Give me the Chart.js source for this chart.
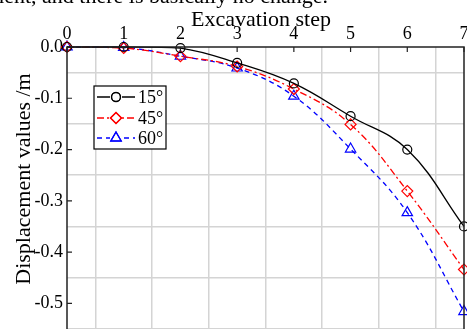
<!DOCTYPE html>
<html>
<head>
<meta charset="utf-8">
<script src="https://cdn.jsdelivr.net/npm/chart.js@4/dist/chart.umd.min.js"></script>
<style>
  html, body { margin: 0; padding: 0; background: #fff; overflow: hidden; }
  #wrap { width: 467px; height: 329px; position: relative; }
</style>
</head>
<body>
<div id="wrap"><canvas id="disp"></canvas></div>
<script>
// excavation steps and displacement (m)
const steps = [0, 1, 2, 3, 4, 5, 6, 7];
const disp15 = [0, 0, -0.002, -0.031, -0.071, -0.135, -0.200, -0.350];
const disp45 = [0, -0.002, -0.018, -0.038, -0.082, -0.151, -0.281, -0.434];
const disp60 = [0, -0.001, -0.018, -0.041, -0.096, -0.199, -0.323, -0.516];
const seriesNames = ['15°', '45°', '60°'];
const xTicks = [0, 1, 2, 3, 4, 5, 6, 7];
const yTicks = [0, -0.1, -0.2, -0.3, -0.4, -0.5];

const serif = "'Liberation Serif', 'Times New Roman', serif";

function pts(ys) {
    return steps.map((s, i) => ({x: s, y: ys[i]}));
}

function isHalf(v, step) {
    let k = Math.round(v / step * 2);
    return Math.abs(k) % 2 === 1;
}

// frame, inner ticks, titles and the boxed legend (Origin style)
const decor = {
    id: 'decor',
    afterDraw(chart) {
        const c = chart.ctx;
        const a = chart.chartArea;
        const xs = chart.scales.x, ys = chart.scales.y;
        c.save();
        c.strokeStyle = '#222';
        c.lineWidth = 1.5;
        c.beginPath();
        c.moveTo(a.left, a.bottom + 2);
        c.lineTo(a.left, a.top);
        c.lineTo(a.right, a.top);
        c.lineTo(a.right, a.bottom + 2);
        c.stroke();

        c.lineWidth = 1.2;
        c.beginPath();
        xTicks.forEach(t => {
            let px = xs.getPixelForValue(t);
            c.moveTo(px, a.top);
            c.lineTo(px, a.top + 5);
        });
        yTicks.forEach(t => {
            let py = ys.getPixelForValue(t);
            c.moveTo(a.left, py);
            c.lineTo(a.left + 5, py);
        });
        c.stroke();

        c.fillStyle = '#000';
        c.font = '22px ' + serif;
        c.textAlign = 'right';
        c.textBaseline = 'alphabetic';
        c.fillText('settlement, and there is basically no change.', 328, 3);

        c.textAlign = 'center';
        c.fillText('Excavation step', 261, 26);

        c.save();
        c.translate(30, 179);
        c.rotate(-Math.PI / 2);
        c.fillText('Displacement values /m', 0, 0);
        c.restore();

        // legend
        c.fillStyle = '#fff';
        c.fillRect(94, 86, 72, 63);
        c.strokeStyle = '#000';
        c.lineWidth = 1.2;
        c.strokeRect(94, 86, 72, 63);
        const rows = [97, 118, 138];
        chart.data.datasets.forEach((ds, i) => {
            let y = rows[i];
            c.strokeStyle = ds.borderColor;
            c.lineWidth = ds.borderWidth;
            c.setLineDash(ds.borderDash || []);
            c.beginPath();
            c.moveTo(97, y);
            c.lineTo(135, y);
            c.stroke();
            c.setLineDash([]);
            c.fillStyle = '#fff';
            c.fillRect(110, y - 6, 12, 12);
            Chart.helpers.drawPoint(c, {
                pointStyle: ds.pointStyle,
                radius: ds.pointRadius,
                borderWidth: ds.pointBorderWidth,
                rotation: 0
            }, 116, y);
            c.strokeStyle = ds.pointBorderColor;
            c.lineWidth = ds.pointBorderWidth;
            c.stroke();
            c.fillStyle = '#000';
            c.font = '18px ' + serif;
            c.textAlign = 'left';
            c.textBaseline = 'middle';
            c.fillText(seriesNames[i], 138, y + 1);
        });
        c.restore();
    }
};

function series(label, data, color, dash, style, r) {
    return {
        label: label,
        data: pts(data),
        borderColor: color,
        borderWidth: 1.3,
        borderDash: dash,
        pointStyle: style,
        pointRadius: r,
        pointHoverRadius: r,
        pointBorderColor: color,
        pointBackgroundColor: 'rgba(255,255,255,0)',
        pointBorderWidth: 1.2,
        tension: 0.4,
        fill: false,
        clip: false
    };
}

let ctx = document.getElementById('disp').getContext('2d');

new Chart(ctx, {
    type: 'line',

    data: {
        datasets: [
            series(seriesNames[0], disp15, '#000000', [], 'circle', 4.5),
            series(seriesNames[1], disp45, '#ff0000', [7, 3, 2, 3], 'rectRot', 5.5),
            series(seriesNames[2], disp60, '#0000ff', [5, 4], 'triangle', 6)
        ]
    },

    options: {
        responsive: true,
        maintainAspectRatio: false,
        animation: false,
        layout: {autoPadding: false, padding: {left: 0, right: 3, top: 0, bottom: 0}},
        plugins: {
            legend: {display: false},
            tooltip: {enabled: false}
        },
        scales: {
            x: {
                type: 'linear',
                position: 'top',
                min: 0,
                max: 7,
                afterFit: s => { s.height = 47; s.paddingLeft = 0; s.paddingRight = 0; },
                ticks: {
                    stepSize: 0.5,
                    autoSkip: false,
                    maxRotation: 0,
                    padding: 2,
                    color: '#000',
                    font: {family: serif, size: 18},
                    callback: v => isHalf(v, 1) ? '' : String(v)
                },
                grid: {
                    drawTicks: false,
                    lineWidth: 1.5,
                    color: c => isHalf(c.tick.value, 1) ? '#d4d4d4' : 'rgba(0,0,0,0)'
                },
                border: {display: false}
            },
            y: {
                type: 'linear',
                min: -0.55,
                max: 0,
                afterFit: s => { s.width = 67; s.paddingTop = 0; s.paddingBottom = 0; },
                ticks: {
                    stepSize: 0.05,
                    autoSkip: false,
                    padding: 4,
                    color: '#000',
                    font: {family: serif, size: 18},
                    callback: v => isHalf(v, 0.1) ? '' : v.toFixed(1)
                },
                grid: {
                    drawTicks: false,
                    lineWidth: 1.5,
                    color: c => isHalf(c.tick.value, 0.1) ? '#d4d4d4' : 'rgba(0,0,0,0)'
                },
                border: {display: false}
            }
        }
    },

    plugins: [decor]
});
</script>
</body>
</html>
